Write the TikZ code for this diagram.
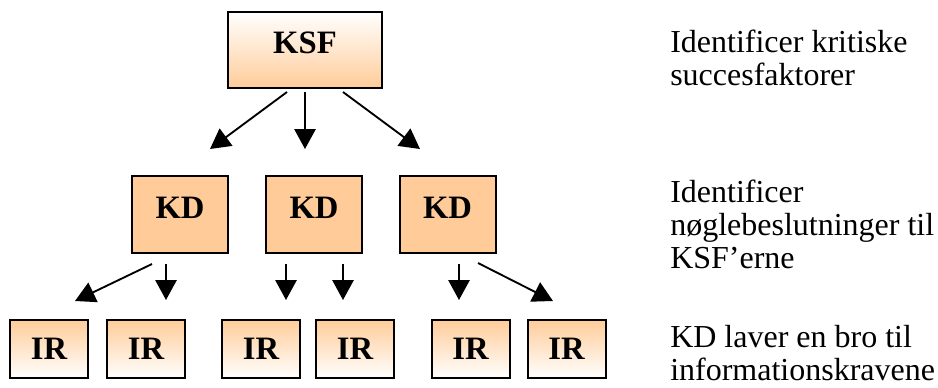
\documentclass[tikz,border=0pt]{standalone}
\usepackage{fontspec}
\setmainfont{Liberation Serif}
\usetikzlibrary{arrows.meta,calc,positioning}
\definecolor{fersken}{RGB}{255,204,153}

\tikzset{
	boks/.style={draw=black,line width=1.5pt,inner sep=0pt,font=\fontsize{24.5}{24.5}\selectfont\bfseries},
	ksfboks/.style={boks,top color=white,bottom color=fersken,minimum width=115.5pt,minimum height=57pt,text depth=10.5pt},
	kdboks/.style={boks,fill=fersken,minimum width=72pt,minimum height=57.75pt,text depth=10.5pt},
	irboks/.style={boks,top color=fersken,bottom color=white,minimum width=58.5pt,minimum height=43.5pt},
	pil/.style={line width=1.4pt,-{Triangle[width=16pt,length=15pt]}},
	tekst/.style={align=left,anchor=base west,inner sep=0pt,font=\fontsize{24}{24.75}\selectfont}
}

\begin{document}
\begin{tikzpicture}[x=0.75pt,y=-0.75pt]
		\useasboundingbox (0,0) rectangle (938,387);
		% boksene
		\node[ksfboks] (ksf) at (305,50) {KSF};
		\node[kdboks] (kd1) at (180,214.5) {KD};
		\node[kdboks] (kd2) at (314,214.5) {KD};
		\node[kdboks] (kd3) at (447.5,214.5) {KD};
		\node[irboks] (ir1) at (49,349) {IR};
		\node[irboks] (ir2) at (146,349) {IR};
		\node[irboks] (ir3) at (261,349) {IR};
		\node[irboks] (ir4) at (355,349) {IR};
		\node[irboks] (ir5) at (470.5,349) {IR};
		\node[irboks] (ir6) at (566.5,349) {IR};
		% pilespidser
		\coordinate (s1) at (210,149);
		\coordinate (s2) at (305,149);
		\coordinate (s3) at (420,149);
		\coordinate (s4) at (75,301);
		\coordinate (s5) at (166,300);
		\coordinate (s6) at (286,300);
		\coordinate (s7) at (343,300);
		\coordinate (s8) at (459,300);
		\coordinate (s9) at (553,301);
		% pile
		\draw[pil] ($(ksf.south)+(-18,3)$) -- (s1);
		\draw[pil] ($(ksf.south)+(0,3)$) -- (s2);
		\draw[pil] ($(ksf.south)+(38,3)$) -- (s3);
			\draw[pil] ($(kd1.south)+(-28,10)$) -- (s4);
			\draw[pil] ($(kd1.south)+(-14,10)$) -- (s5);
			\draw[pil] ($(kd2.south)+(-28,10)$) -- (s6);
			\draw[pil] ($(kd2.south)+(29,10)$) -- (s7);
			\draw[pil] ($(kd3.south)+(11.5,10)$) -- (s8);
			\draw[pil] ($(kd3.south)+(30.5,9)$) -- (s9);
		% forklaringer (base = sidste linje)
		\node[tekst] (t1) at (670,85) {Identificer kritiske\\succesfaktorer};
		\node[tekst] (t2) at (670,268) {Identificer\\nøglebeslutninger til\\KSF’erne};
		\node[tekst] (t3) at (670,380) {KD laver en bro til\\informationskravene};
	\end{tikzpicture}
\end{document}
